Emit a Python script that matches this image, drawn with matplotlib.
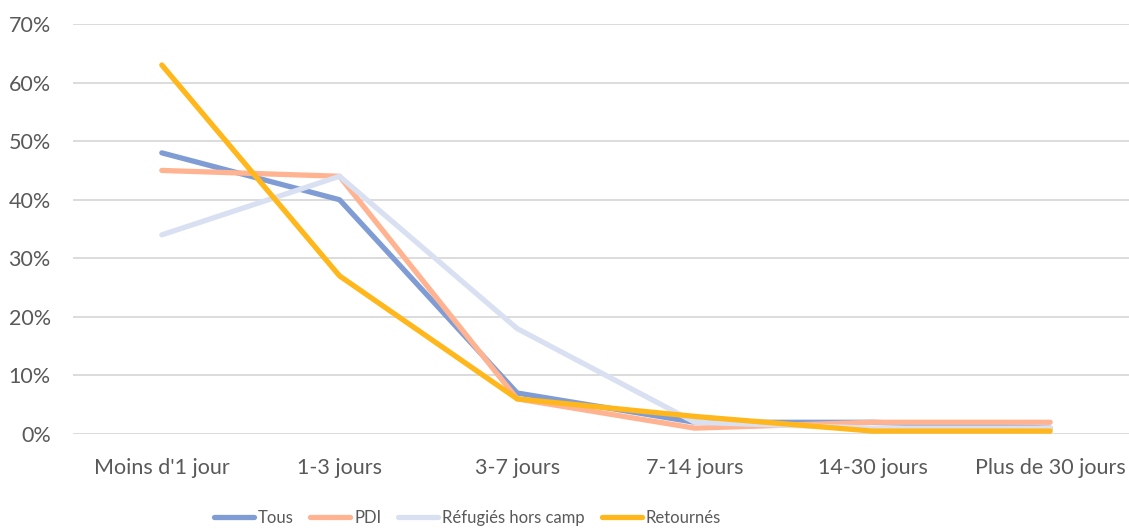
import matplotlib.pyplot as plt
from matplotlib.ticker import PercentFormatter

plt.rcParams['font.family'] = ['Lato', 'DejaVu Sans']

# Durée
categories = ["Moins d'1 jour", "1-3 jours", "3-7 jours", "7-14 jours", "14-30 jours", "Plus de 30 jours"]

# Pourcentages par groupe
tous = [48, 40, 7, 2, 2, 1]
pdi = [45, 44, 6, 1, 2, 2]
refugies = [34, 44, 18, 2, 1, 1]
retournes = [63, 27, 6, 3, 0.5, 0.5]

series = [
    ("Tous", tous, "#7F9DD4"),
    ("PDI", pdi, "#FFB391"),
    ("Réfugiés hors camp", refugies, "#D9E0F1"),
    ("Retournés", retournes, "#FFB71B"),
]

fig = plt.figure(figsize=(11.29, 5.29), dpi=100)
# plot area runs a little past the right edge of the figure
ax = fig.add_axes([73 / 1129, 1 - 434 / 529, 1066 / 1129, 410 / 529])

x = range(len(categories))
for name, vals, col in series:
    ax.plot(x, vals, color=col, lw=3.8, label=name, solid_capstyle='round',
            solid_joinstyle='round')

ax.set_xlim(-0.5, len(categories) - 0.5)
ax.set_ylim(0, 70)
ax.set_yticks(range(0, 71, 10))
ax.yaxis.set_major_formatter(PercentFormatter(decimals=0))
ax.set_xticks(list(x))
ax.set_xticklabels(categories)

ax.grid(axis='y', color='#D9D9D9', lw=1.3)
ax.set_axisbelow(True)
for s in ax.spines.values():
    s.set_visible(False)
ax.tick_params(length=0, labelsize=15.5, labelcolor='#595959')
ax.tick_params(axis='x', pad=17)
ax.tick_params(axis='y', pad=16)

leg = fig.legend(loc='center', bbox_to_anchor=(0.414, 1 - 518 / 529), ncol=4,
                 frameon=False, handlelength=2.4, columnspacing=1.0,
                 handletextpad=0.25, fontsize=12, borderpad=0)
for t in leg.get_texts():
    t.set_color('#595959')

fig.savefig('out.png', dpi=100)
